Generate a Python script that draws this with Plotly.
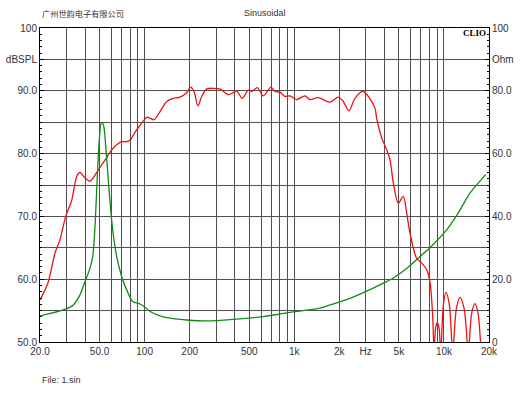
import plotly.graph_objects as go

# ---- data ----
spl_freq = [20, 22.6, 25.2, 27.2, 29.7, 32.6, 35.2, 37.0, 40.0, 43.2, 47.9, 52.7, 56.5, 60.3,
            65.1, 70.3, 75.9, 80.5, 84.3, 88.6, 93.2, 98.0, 103.6, 109.0, 115.6, 126.8, 140.5,
            155.5, 172.4, 191, 203, 213.8, 227, 240.7, 260, 287.6, 319, 362, 390, 412, 449,
            493, 519, 566, 621, 699, 743, 803, 867, 936, 1038, 1179, 1274, 1447, 1732, 1968,
            2126, 2320, 2544, 2866, 3123, 3462, 3554, 3837, 4146, 4363, 4590, 4955, 5352,
            5639, 5934, 6577, 7100, 7670, 8070, 8412, 8582, 8804, 9030, 9268, 9515,
            9908, 10320, 10868, 11440, 12106, 12806, 13646, 14546, 15316, 16126, 16890, 17688]
spl_db = [56.7, 59.4, 64.2, 66.3, 70.0, 72.6, 76.4, 77.0, 76.1, 75.6, 77.0, 78.5, 79.6, 80.6,
          81.4, 81.9, 81.9, 82.2, 83.0, 83.8, 84.5, 85.2, 85.8, 85.6, 85.4, 86.7, 88.3,
          88.8, 89.0, 89.7, 90.6, 89.9, 87.6, 89.1, 90.3, 90.4, 90.3, 89.4, 89.7, 90.0, 88.8,
          90.1, 89.9, 90.5, 89.2, 90.6, 89.9, 89.8, 89.1, 89.2, 88.6, 89.2, 88.6, 88.9, 88.2, 89.0,
          88.3, 86.8, 88.8, 89.9, 89.1, 87.2, 85.6, 82.5, 80.6, 79.0, 75.3, 72.1, 73.2,
          70.5, 67.3, 63.3, 62.6, 61.5, 59.5, 54.1, 48.5, 52.3, 53.1, 52.3, 48.5,
          55.9, 57.9, 55.9, 48.5, 55.3, 57.1, 55.3, 48.5, 54.6, 56.1, 54.6, 48.5]

imp_freq = [20, 28.6, 33.4, 37.0, 40.0, 42.7, 45.0, 46.6, 48.3, 49.8, 51.4, 53.0, 55.2, 58.1,
            61.2, 65.1, 70.3, 75.9, 83.3, 93.2, 100.6, 108.7, 133.3, 172.4, 191, 260, 390,
            621, 867, 1241, 1486, 1871, 2357, 2822, 3740, 4590, 5639, 6918, 8282, 10436,
            12474, 14930, 19012]
imp_ohm = [8.3, 10.2, 11.8, 15.0, 19.3, 22.8, 27.2, 36.8, 52.7, 64.4, 69.8, 69.2, 61.2, 47.4,
           35.7, 27.2, 20.8, 16.6, 12.9, 12.1, 11.1, 9.7, 8.0, 7.2, 7.0, 6.7, 7.2,
           8.1, 9.2, 10.2, 10.8, 12.3, 13.9, 15.5, 18.2, 20.4, 23.4, 27.2, 30.6, 35.7,
           41.1, 47.4, 53.3]

x_tick_vals = [20, 30, 40, 50, 60, 70, 80, 90, 100, 200, 300, 400, 500, 600, 700, 800, 900,
               1000, 2000, 3000, 4000, 5000, 6000, 7000, 8000, 9000, 10000, 20000]
x_tick_text = ['20.0', '', '', '50.0', '', '', '', '', '100', '200', '', '', '500', '', '', '', '',
               '1k', '2k', 'Hz', '', '5k', '', '', '', '', '10k', '20k']

y_tick_vals = [50, 55, 60, 65, 70, 75, 80, 85, 90, 95, 100]
y_tick_text = ['50.0', '', '60.0', '', '70.0', '', '80.0', '', '90.0', 'dBSPL', '100']
y_minor_vals = list(range(50, 101))

y2_tick_vals = [0, 20, 40, 60, 80, 90, 100]
y2_tick_text = ['0', '20.0', '40.0', '60.0', '80.0', 'Ohm', '100']
y2_minor_vals = list(range(0, 101, 2))

title_left = '广州世韵电子有限公司'
title_mid = 'Sinusoidal'
footer = 'File: 1.sin'
brand = 'CLIO'

# ---- figure ----
W, H = 530, 398
L, R, T, B = 40, 41, 28, 56
TXT = '#333333'
GRID = '#505050'
tick_font = dict(family='Liberation Sans Narrow, Liberation Sans, Arial, sans-serif', size=10, color=TXT)

fig = go.Figure()
fig.add_trace(go.Scatter(x=imp_freq, y=imp_ohm, yaxis='y2', mode='lines',
                         line=dict(color='#138a13', width=1.3, shape='spline', smoothing=0.8),
                         hoverinfo='skip', showlegend=False))
fig.add_trace(go.Scatter(x=spl_freq, y=spl_db, mode='lines',
                         line=dict(color='#ee1111', width=1.3, shape='spline', smoothing=0.8),
                         hoverinfo='skip', showlegend=False))

fig.update_layout(
    width=W, height=H,
    margin=dict(l=L, r=R, t=T, b=B, pad=0, autoexpand=False),
    paper_bgcolor='white', plot_bgcolor='white',
    showlegend=False,
    xaxis=dict(type='log', range=[1.30103, 4.30103], tickmode='array',
               tickvals=x_tick_vals, ticktext=x_tick_text, ticks='',
               showgrid=True, gridcolor=GRID, gridwidth=1, automargin=False,
               showline=True, linecolor='black', linewidth=1, mirror=True,
               tickfont=tick_font, zeroline=False, fixedrange=True),
    yaxis=dict(range=[50, 100], tickmode='array', tickvals=y_tick_vals, ticktext=y_tick_text,
               ticks='inside', ticklen=4, tickcolor='black', automargin=False,
               minor=dict(tickvals=y_minor_vals, ticks='inside', ticklen=2, tickcolor='black', showgrid=False),
               showgrid=True, gridcolor=GRID, gridwidth=1,
               showline=True, linecolor='black', linewidth=1, mirror=True,
               tickfont=tick_font, zeroline=False, fixedrange=True),
    yaxis2=dict(range=[0, 100], overlaying='y', side='right', tickmode='array',
                tickvals=y2_tick_vals, ticktext=y2_tick_text, automargin=False,
                ticks='inside', ticklen=4, tickcolor='black',
                minor=dict(tickvals=y2_minor_vals, ticks='inside', ticklen=2, tickcolor='black', showgrid=False),
                showgrid=False, showline=True, linecolor='black', linewidth=1,
                tickfont=tick_font, zeroline=False, fixedrange=True),
)

pw, ph = W - L - R, H - T - B
def px(x):
    return (x - L) / pw
def py(y):
    return (H - B - y) / ph

fig.add_annotation(text=title_left, x=px(40), y=py(13), xref='paper', yref='paper',
                   xanchor='left', yanchor='middle', showarrow=False,
                   font=dict(family='Noto Sans CJK SC, sans-serif', size=8.2, color=TXT))
fig.add_annotation(text=title_mid, x=px(265), y=py(13), xref='paper', yref='paper',
                   xanchor='center', yanchor='middle', showarrow=False,
                   font=dict(family='Liberation Sans, Arial, sans-serif', size=9, color=TXT))
fig.add_annotation(text=footer, x=px(40), y=py(380), xref='paper', yref='paper',
                   xanchor='left', yanchor='middle', showarrow=False,
                   font=dict(family='Liberation Sans, Arial, sans-serif', size=9, color=TXT))
fig.add_annotation(text='<b>' + brand + '</b>', x=px(488), y=py(33), xref='paper', yref='paper',
                   xanchor='right', yanchor='middle', showarrow=False,
                   font=dict(family='Liberation Serif, Times New Roman, serif', size=9, color='black'))

fig.write_html('out.html', config=dict(displayModeBar=False),
               post_script="document.body.style.margin='0';document.body.style.overflow='hidden';")
